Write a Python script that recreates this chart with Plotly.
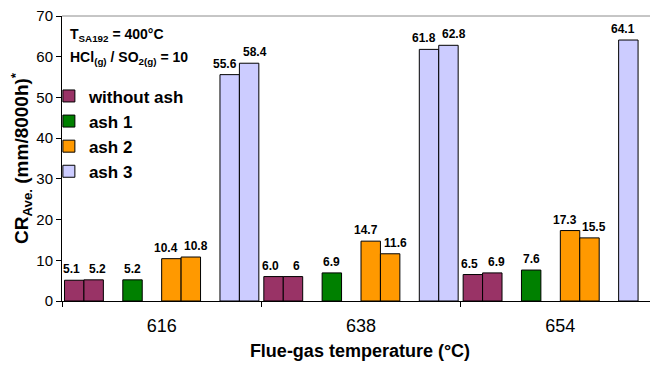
import plotly.graph_objects as go

# ---- data ----
categories = ["616", "638", "654"]
without_ash_a = [5.1, 6.0, 6.5]
without_ash_b = [5.2, 6, 6.9]
ash1_a = [5.2, 6.9, 7.6]
ash2_a = [10.4, 14.7, 17.3]
ash2_b = [10.8, 11.6, 15.5]
ash3_a = [55.6, 61.8, 64.1]
ash3_b = [58.4, 62.8, None]

without_ash_a_labels = ["5.1", "6.0", "6.5"]
without_ash_b_labels = ["5.2", "6", "6.9"]
ash1_a_labels = ["5.2", "6.9", "7.6"]
ash2_a_labels = ["10.4", "14.7", "17.3"]
ash2_b_labels = ["10.8", "11.6", "15.5"]
ash3_a_labels = ["55.6", "61.8", "64.1"]
ash3_b_labels = ["58.4", "62.8", ""]

FONT = "Arial, 'Liberation Sans', sans-serif"
C_WO = "#993366"
C_A1 = "#008000"
C_A2 = "#FF9900"
C_A3 = "#CCCCFF"

# (legend name, colour, values, labels, slot index in the 10-slot cluster, show in legend, label nudge px)
series = [
    ("without ash", C_WO, without_ash_a, without_ash_a_labels, 0, True, -3),
    ("without ash", C_WO, without_ash_b, without_ash_b_labels, 1, False, 4),
    ("ash 1", C_A1, ash1_a, ash1_a_labels, 3, True, 0),
    ("ash 2", C_A2, ash2_a, ash2_a_labels, 5, True, -5),
    ("ash 2", C_A2, ash2_b, ash2_b_labels, 6, False, 5),
    ("ash 3", C_A3, ash3_a, ash3_a_labels, 8, True, -5),
    ("ash 3", C_A3, ash3_b, ash3_b_labels, 9, False, 6),
]

# page body has an 8px margin, so the figure is sized to the visible area
W, H = 650, 360
ML, MR, MT, MB = 54, 0, 8, 67
x_range = [-0.5, 2.49]
px_per_cat = (W - ML - MR) / (x_range[1] - x_range[0])

n_slots = 10
edge_gap = 0.0125
bar_w = (1 - 2 * edge_gap) / n_slots

fig = go.Figure()
annotations = []
for name, color, vals, labs, slot, show, nudge in series:
    off = -0.5 + edge_gap + slot * bar_w
    fig.add_trace(go.Bar(
        x=categories, y=vals, name=name, legendgroup=name, showlegend=show,
        marker=dict(color=color, line=dict(color="#000000", width=1)),
        width=bar_w, offset=off,
    ))
    for i, (v, t) in enumerate(zip(vals, labs)):
        if v is None or not t:
            continue
        annotations.append(dict(
            x=i, y=v, xref="x", yref="y", text="<b>%s</b>" % t, showarrow=False,
            xanchor="center", yanchor="bottom",
            xshift=(off + bar_w / 2) * px_per_cat + nudge, yshift=2,
            font=dict(family=FONT, size=12, color="#000000"),
        ))

annotations += [
    dict(text="<b>T<sub>SA192</sub> = 400°C</b>", xref="paper", yref="paper",
         x=0.01, y=0.935, xanchor="left", yanchor="middle", showarrow=False,
         font=dict(family=FONT, size=14, color="#000000")),
    dict(text="<b>HCl<sub>(g)</sub> / SO<sub>2(g)</sub> = 10</b>", xref="paper", yref="paper",
         x=0.01, y=0.854, xanchor="left", yanchor="middle", showarrow=False,
         font=dict(family=FONT, size=14, color="#000000")),
]

fig.update_layout(
    width=W, height=H,
    margin=dict(l=ML, r=MR, t=MT, b=MB),
    paper_bgcolor="white", plot_bgcolor="white",
    font=dict(family=FONT, color="#000000"),
    barmode="overlay",
    showlegend=True,
    legend=dict(
        x=-0.022, y=0.781, xanchor="left", yanchor="top",
        bgcolor="rgba(0,0,0,0)",
        font=dict(family=FONT, size=17, color="#000000", weight="bold"),
        tracegroupgap=0,
    ),
    xaxis=dict(
        type="category", range=x_range, automargin=False,
        showline=True, linecolor="#000000", linewidth=1,
        ticks="outside", tickson="boundaries", ticklen=5, tickcolor="#000000",
        ticklabelstandoff=8,
        tickfont=dict(family=FONT, size=18, color="#000000"),
        showgrid=False, zeroline=False,
        title=dict(text="<b>Flue-gas temperature (°C)</b>",
                   font=dict(family=FONT, size=18, color="#000000"), standoff=9),
    ),
    yaxis=dict(
        range=[0, 70], dtick=10, automargin=False,
        showline=True, linecolor="#000000", linewidth=1,
        ticks="outside", ticklen=5, tickcolor="#000000",
        ticklabeloverflow="allow",
        tickfont=dict(family=FONT, size=15, color="#000000"),
        showgrid=False, zeroline=False,
        title=dict(text="<b>CR<sub>Ave.</sub> (mm/8000h)<sup>*</sup></b>",
                   font=dict(family=FONT, size=19, color="#000000"), standoff=8),
    ),
    shapes=[dict(type="line", xref="paper", yref="paper", x0=0, x1=1, y0=1, y1=1,
                 line=dict(color="#8c8c8c", width=1))],
    annotations=annotations,
)

fig.write_html("out.html")
